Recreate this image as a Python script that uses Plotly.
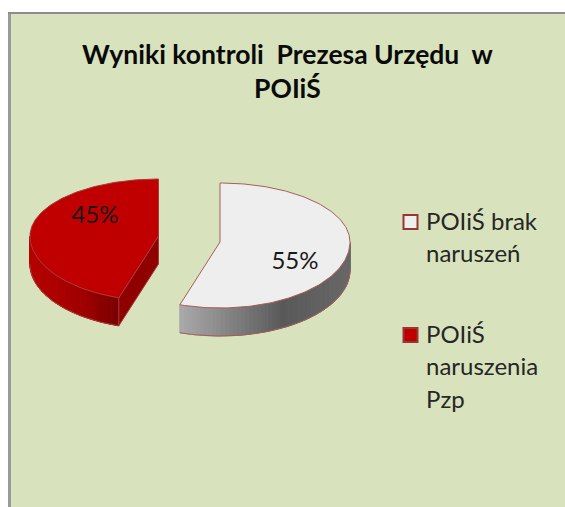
import numpy as np
import plotly.graph_objects as go

# ---- data ----
categories = ["POIiŚ brak<br>naruszeń", "POIiŚ<br>naruszenia<br>Pzp"]
values = [55, 45]
title_text = "<b>Wyniki kontroli  Prezesa Urzędu  w<br>POIiŚ</b>"

# ---- style / layout ----
W, H = 565, 507
FONT = "Lato"
BG = "#d8e3bd"
TOP = ["#eeeeee", "#c00000"]
EDGE = ["#a85c5c", "#a83a3a"]
SWATCH_EDGE = ["#953735", "#953735"]
CUT = "#8f0000"
CENTRE = [(220, 242, 130, 59, 66), (158.5, 236, 128.5, 57, 65)]
DEPTH = [28, 28]
SIDE_STOPS = [
    [(0.0, (170, 170, 170)), (0.6, (90, 90, 90)), (1.0, (104, 104, 104))],
    [(0.0, (182, 0, 0)), (0.6, (160, 0, 0)), (1.0, (120, 0, 0))],
]
LABEL_POS = [(295, 263), (95, 217)]
KEY_POS = [(410.5, 222), (410.5, 335)]
KEY_TEXT_X = 424
KEY_TEXT_DY = -2
LINE_PITCH = 32.5


def rim(geom, th):
    cx, cy, a, bt, bb = geom
    r = np.radians(th)
    c = np.cos(r)
    return cx + a * np.sin(r), cy - np.where(c > 0, bt, bb) * c


def lerp(stops, t):
    for (t0, c0), (t1, c1) in zip(stops, stops[1:]):
        if t <= t1:
            f = (t - t0) / (t1 - t0)
            return "rgb(%d,%d,%d)" % tuple(c0[i] + f * (c1[i] - c0[i]) for i in range(3))
    return "rgb(%d,%d,%d)" % stops[-1][1]


fig = go.Figure()
total = sum(values)
spans = []
start = 0.0
for v in values:
    spans.append((start, start + 360.0 * v / total))
    start += 360.0 * v / total


def poly(x, y, fill, line=None, width=1):
    fig.add_trace(go.Scatter(
        x=list(x), y=list(y), mode="lines", fill="toself", fillcolor=fill,
        line=dict(color=line or fill, width=width),
        hoverinfo="skip", showlegend=False))


for i, (t0, t1) in enumerate(spans):
    g, d = CENTRE[i], DEPTH[i]
    lo, hi = max(t0, 90), min(t1, 270)
    edges = np.linspace(lo, hi, 61)
    xs, ys = rim(g, edges)
    xmin, xmax = xs.min(), xs.max()
    for k in range(len(edges) - 1):
        tt = np.linspace(edges[k], edges[k + 1], 3)
        px, py = rim(g, tt)
        t = ((px.mean() - xmin) / (xmax - xmin))
        col = lerp(SIDE_STOPS[i], t)
        poly(np.r_[px, px[::-1], px[0]], np.r_[py, py[::-1] + d, py[0]], col)
    px, py = rim(g, edges)
    fig.add_trace(go.Scatter(x=px, y=py + d, mode="lines",
                             line=dict(color=EDGE[i], width=1),
                             hoverinfo="skip", showlegend=False))
    if i == 1:
        ex, ey = rim(g, np.array([t0]))
        poly([g[0], ex[0], ex[0], g[0], g[0]],
             [g[1], ey[0], ey[0] + d, g[1] + d, g[1]], CUT, EDGE[i])
    tt = np.linspace(t0, t1, 181)
    px, py = rim(g, tt)
    poly(np.r_[g[0], px, g[0]], np.r_[g[1], py, g[1]], TOP[i], EDGE[i])

for i, v in enumerate(values):
    fig.add_trace(go.Scatter(
        x=[LABEL_POS[i][0]], y=[LABEL_POS[i][1]], mode="text", text=[f"{v}%"],
        textfont=dict(family=FONT, size=24, color="#1a1a1a"),
        hoverinfo="skip", showlegend=False))

annotations = [dict(
    x=288, y=71, xref="x", yref="y", text=title_text, showarrow=False,
    align="center", font=dict(family=FONT, size=26.5, color="#0a0a0a"),
)]
for i, name in enumerate(categories):
    kx, ky = KEY_POS[i]
    fig.add_trace(go.Scatter(
        x=[kx], y=[ky], mode="markers", name=name.replace("<br>", " "),
        marker=dict(symbol="square", size=14, color=TOP[i],
                    line=dict(color=SWATCH_EDGE[i], width=2)),
        hoverinfo="name", showlegend=False))
    for j, part in enumerate(name.split("<br>")):
        annotations.append(dict(
            x=KEY_TEXT_X, y=ky + KEY_TEXT_DY + j * LINE_PITCH, xref="x", yref="y", text=part,
            showarrow=False, xanchor="left", yanchor="middle",
            font=dict(family=FONT, size=24, color="#262626"),
        ))

fig.update_layout(
    width=W, height=H, autosize=False,
    margin=dict(l=0, r=0, t=0, b=0),
    paper_bgcolor="white", plot_bgcolor="white", showlegend=False,
    xaxis=dict(range=[0, W], visible=False, fixedrange=True),
    yaxis=dict(range=[H, 0], visible=False, fixedrange=True),
    shapes=[
        dict(type="rect", layer="below", x0=9, x1=W, y0=13, y1=H, fillcolor=BG, line_width=0),
        dict(type="rect", layer="below", x0=8, x1=11, y0=12, y1=H, fillcolor="#9a9a9a", line_width=0),
        dict(type="rect", layer="below", x0=8, x1=W, y0=12, y1=14, fillcolor="#8c8c8c", line_width=0),
    ],
    annotations=annotations,
)
fig.write_html("out.html", config={"displayModeBar": False},
               post_script="document.body.style.margin='0';document.body.style.overflow='hidden';")
